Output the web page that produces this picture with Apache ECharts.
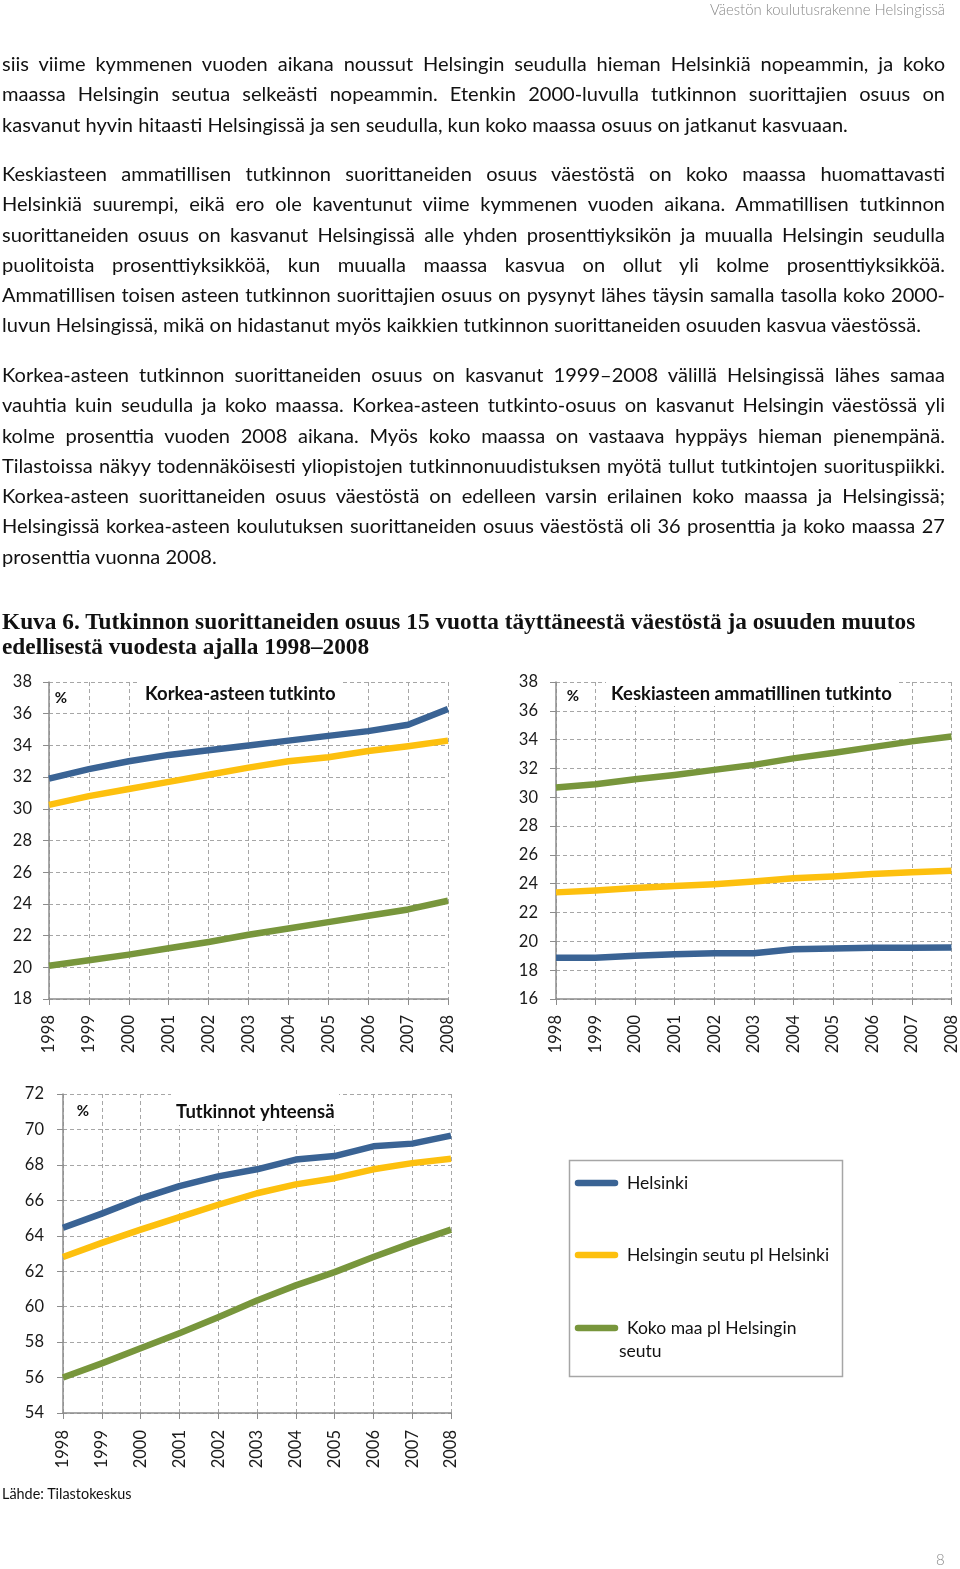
<!DOCTYPE html>
<html><head><meta charset="utf-8">
<script src="https://cdn.jsdelivr.net/npm/echarts@6/dist/echarts.min.js"></script>
<style>
html,body{margin:0;padding:0;background:#fff;}
#page{position:relative;width:960px;height:1569px;overflow:hidden;}
#chart{position:absolute;left:0;top:0;width:960px;height:1569px;}
.ln{position:absolute;white-space:nowrap;color:#111;z-index:2;}
</style></head>
<body><div id="page"><div id="chart"></div></div>
<script>
// ---- data ----
const years = ['1998','1999','2000','2001','2002','2003','2004','2005','2006','2007','2008'];
const seriesNames = ['Helsinki','Helsingin seutu pl Helsinki','Koko maa pl Helsingin seutu'];
const legendLabels = ['Helsinki','Helsingin seutu pl Helsinki','Koko maa pl Helsingin\nseutu'];
const seriesColors = ['#3A6394','#FDC00E','#78963C'];

const korkeaHelsinki = [31.9,32.5,33.0,33.4,33.7,34.0,34.3,34.6,34.9,35.3,36.3];
const korkeaSeutu    = [30.25,30.8,31.25,31.7,32.15,32.6,33.0,33.25,33.65,33.95,34.3];
const korkeaMaa      = [20.1,20.45,20.8,21.2,21.6,22.05,22.45,22.85,23.25,23.65,24.2];

const keskiHelsinki  = [18.87,18.87,19.0,19.1,19.17,19.17,19.45,19.5,19.55,19.55,19.57];
const keskiSeutu     = [23.4,23.53,23.7,23.85,23.97,24.15,24.38,24.5,24.68,24.8,24.9];
const keskiMaa       = [30.68,30.9,31.25,31.55,31.9,32.25,32.7,33.07,33.48,33.88,34.22];

const yhtHelsinki    = [64.45,65.25,66.1,66.8,67.35,67.75,68.3,68.5,69.05,69.2,69.65];
const yhtSeutu       = [62.8,63.6,64.35,65.05,65.75,66.4,66.9,67.25,67.75,68.1,68.35];
const yhtMaa         = [56.0,56.8,57.65,58.5,59.4,60.35,61.2,61.95,62.8,63.6,64.35];

const chartTitles = ['Korkea-asteen tutkinto','Keskiasteen ammatillinen tutkinto','Tutkinnot yhteensä'];
const yRanges = [[18,38],[16,38],[54,72]];
const yInterval = 2;

// ---- page text ----
const headerText = 'Väestön koulutusrakenne Helsingissä';
const para1 = [
 'siis viime kymmenen vuoden aikana noussut Helsingin seudulla hieman Helsinkiä nopeammin, ja koko',
 'maassa Helsingin seutua selkeästi nopeammin. Etenkin 2000-luvulla tutkinnon suorittajien osuus on',
 'kasvanut hyvin hitaasti Helsingissä ja sen seudulla, kun koko maassa osuus on jatkanut kasvuaan.'
];
const para2 = [
 'Keskiasteen ammatillisen tutkinnon suorittaneiden osuus väestöstä on koko maassa huomattavasti',
 'Helsinkiä suurempi, eikä ero ole kaventunut viime kymmenen vuoden aikana. Ammatillisen tutkinnon',
 'suorittaneiden osuus on kasvanut Helsingissä alle yhden prosenttiyksikön ja muualla Helsingin seudulla',
 'puolitoista prosenttiyksikköä, kun muualla maassa kasvua on ollut yli kolme prosenttiyksikköä.',
 'Ammatillisen toisen asteen tutkinnon suorittajien osuus on pysynyt lähes täysin samalla tasolla koko 2000-',
 'luvun Helsingissä, mikä on hidastanut myös kaikkien tutkinnon suorittaneiden osuuden kasvua väestössä.'
];
const para3 = [
 'Korkea-asteen tutkinnon suorittaneiden osuus on kasvanut 1999–2008 välillä Helsingissä lähes samaa',
 'vauhtia kuin seudulla ja koko maassa. Korkea-asteen tutkinto-osuus on kasvanut Helsingin väestössä yli',
 'kolme prosenttia vuoden 2008 aikana. Myös koko maassa on vastaava hyppäys hieman pienempänä.',
 'Tilastoissa näkyy todennäköisesti yliopistojen tutkinnonuudistuksen myötä tullut tutkintojen suorituspiikki.',
 'Korkea-asteen suorittaneiden osuus väestöstä on edelleen varsin erilainen koko maassa ja Helsingissä;',
 'Helsingissä korkea-asteen koulutuksen suorittaneiden osuus väestöstä oli 36 prosenttia ja koko maassa 27',
 'prosenttia vuonna 2008.'
];
const figTitle = [
 'Kuva 6. Tutkinnon suorittaneiden osuus 15 vuotta täyttäneestä väestöstä ja osuuden muutos',
 'edellisestä vuodesta ajalla 1998–2008'
];
const sourceText = 'Lähde: Tilastokeskus';
const pageNum = '8';

// ---- text layout helpers ----
const page = document.getElementById('page');
const mctx = document.createElement('canvas').getContext('2d');
function measure(t, fam, w, s){ mctx.font = w+' '+s+'px '+fam; return mctx.measureText(t).width; }
function fitSize(t, fam, w, target){ return 20*target/measure(t,fam,w,20); }
function addLine(t, x, cy, size, fam, w, opts){
  opts = opts||{};
  const d = document.createElement('div');
  d.className='ln'; d.textContent=t;
  d.style.fontFamily=fam; d.style.fontWeight=w; d.style.fontSize=size+'px';
  d.style.lineHeight='30px'; d.style.top=(cy-15)+'px';
  if(opts.color) d.style.color=opts.color;
  const nat = measure(t,fam,w,size);
  if(opts.right!==undefined){ d.style.right=(960-opts.right)+'px'; }
  else d.style.left=x+'px';
  if(opts.width){
    if(nat>opts.width){
      d.style.transformOrigin='left center';
      d.style.transform='scaleX('+(opts.width/nat)+')';
    } else {
      d.style.width=opts.width+'px';
      d.style.whiteSpace='normal';
      d.style.textAlign='justify';
      d.style.textAlignLast='justify';
      d.style.height='30px'; d.style.overflow='hidden';
    }
  }
  page.appendChild(d);
}
const bodyFam='Lato', W=943;
function addPara(lines, y0, lastWidth){
  const sz = fitSize(lines[lines.length-1], bodyFam, 'normal', lastWidth);
  lines.forEach((t,i)=>{
    const last = i===lines.length-1;
    addLine(t, 2, y0+i*30.25, sz, bodyFam, 'normal', last?{}:{width:W});
  });
  return sz;
}
addLine(headerText, 0, 9, fitSize(headerText,bodyFam,'300',235), bodyFam, '300', {right:945, color:'#8a8a8a'});
addPara(para1, 63, 846);
const s2 = addPara(para2, 173, 920);
para3.forEach((t,i)=>{
  const last = i===para3.length-1;
  addLine(t, 2, 374+i*30.25, s2, bodyFam, 'normal', last?{}:{width:W});
});
const tFam='"Liberation Serif"';
const tSize = fitSize(figTitle[0], tFam, 'bold', 914);
addLine(figTitle[0], 2, 621, tSize, tFam, 'bold', {});
addLine(figTitle[1], 2, 646, tSize, tFam, 'bold', {});
addLine(sourceText, 2, 1494, fitSize(sourceText,bodyFam,'normal',130), bodyFam, 'normal', {});
addLine(pageNum, 936, 1559, 15, bodyFam, '300', {color:'#8a8a8a'});

// ---- charts ----
const grids = [
  {left:49, top:682, width:399, height:317},
  {left:556, top:682, width:397, height:317},
  {left:63, top:1094, width:388, height:319}
];
const labelMargins = [17,18,19];
const xLabelMargins = [16,16,17];
const seriesData = [
  [korkeaHelsinki, korkeaSeutu, korkeaMaa],
  [keskiHelsinki, keskiSeutu, keskiMaa],
  [yhtHelsinki, yhtSeutu, yhtMaa]
];
const gridLine = {show:true, lineStyle:{color:'#a6a6a6', type:[4,3], width:1}};
const axisCol = '#8c8c8c';
const lblFont = 'Lato';

const option = {
  animation:false,
  grid: grids.map(g=>Object.assign({containLabel:false}, g)),
  xAxis: grids.map((g,i)=>({
    type:'category', gridIndex:i, data:years, boundaryGap:false,
    axisLine:{show:true, lineStyle:{color:axisCol, width:1.5}},
    axisTick:{show:true, length:6, lineStyle:{color:axisCol}},
    splitLine:gridLine,
    axisLabel:{rotate:90, margin:xLabelMargins[i], fontSize:16.5, fontFamily:lblFont, color:'#1a1a1a', interval:0}
  })),
  yAxis: grids.map((g,i)=>({
    type:'value', gridIndex:i, min:yRanges[i][0], max:yRanges[i][1], interval:yInterval,
    axisLine:{show:true, lineStyle:{color:axisCol, width:1.5}},
    axisTick:{show:true, length:6, lineStyle:{color:axisCol}},
    splitLine:gridLine,
    axisLabel:{margin:labelMargins[i], fontSize:16.5, fontFamily:lblFont, color:'#1a1a1a'}
  })),
  series: []
};
seriesData.forEach((arr,gi)=>{
  arr.forEach((d,si)=>{
    option.series.push({
      type:'line', name:seriesNames[si], xAxisIndex:gi, yAxisIndex:gi, data:d,
      showSymbol:false, symbol:'none',
      lineStyle:{color:seriesColors[si], width:6.5, join:'round'},
      z:3
    });
  });
});

// titles inside plots (white box behind to hide gridlines)
const titleBoxes = [
  {rect:[140,680,200,27], pct:[61,698], title:[145,694]},
  {rect:[606,680,292,26], pct:[573,696], title:[611,694]},
  {rect:[171,1092,168,33], pct:[83,1111], title:[176,1112]}
];
const graphics = [];
titleBoxes.forEach((b,i)=>{
  graphics.push({type:'rect', shape:{x:b.rect[0], y:b.rect[1], width:b.rect[2], height:b.rect[3]}, style:{fill:'#fff'}, z:5});
  graphics.push({type:'text', x:b.pct[0], y:b.pct[1], style:{text:'%', font:'bold 15px Lato', fill:'#111', textAlign:'center', textVerticalAlign:'middle'}, z:6});
  graphics.push({type:'text', x:b.title[0], y:b.title[1], style:{text:chartTitles[i], font:'bold 18.5px Lato', fill:'#111', textVerticalAlign:'middle'}, z:6});
});
// legend box
graphics.push({type:'rect', shape:{x:569.5, y:1160.5, width:273, height:216}, style:{fill:'#fff', stroke:'#a6a6a6', lineWidth:1.5}, z:5});
const legY = [1183,1255,1328];
seriesNames.forEach((n,i)=>{
  graphics.push({type:'line', shape:{x1:578, y1:legY[i], x2:615, y2:legY[i]}, style:{stroke:seriesColors[i], lineWidth:6.5, lineCap:'round'}, z:6});
  const parts = legendLabels[i].split('\n');
  graphics.push({type:'text', x:627, y:legY[i], style:{text:parts[0], font:'17.5px Lato', fill:'#111', textVerticalAlign:'middle'}, z:6});
  if(parts[1]) graphics.push({type:'text', x:619, y:legY[i]+23, style:{text:parts[1], font:'17.5px Lato', fill:'#111', textVerticalAlign:'middle'}, z:6});
});
option.graphic = graphics;

const chart = echarts.init(document.getElementById('chart'), null, {renderer:'canvas'});
chart.setOption(option);
</script></body></html>
